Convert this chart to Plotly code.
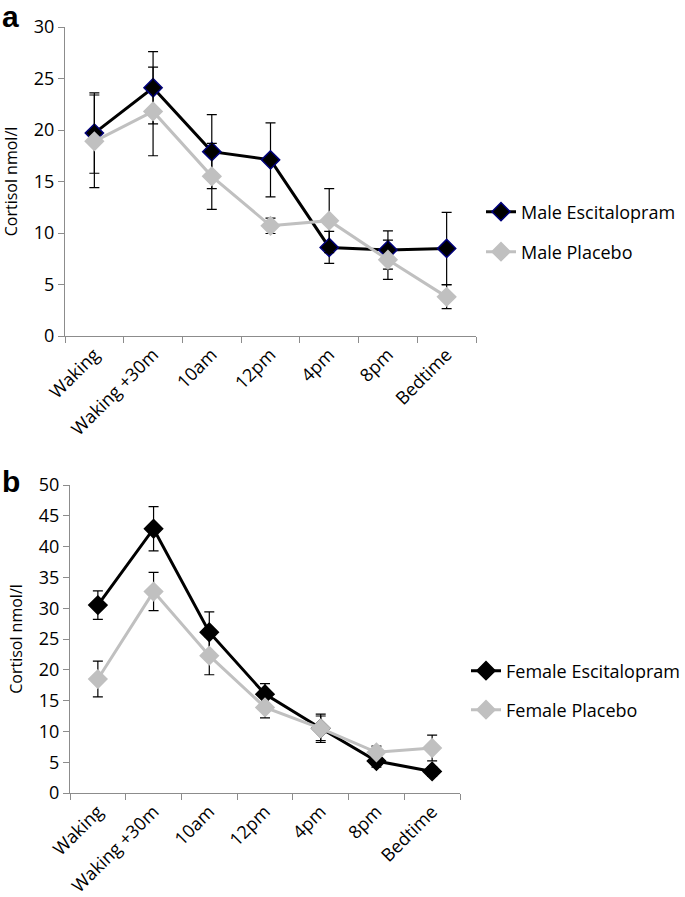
import plotly.graph_objects as go

times = ["Waking", "Waking +30m", "10am", "12pm", "4pm", "8pm", "Bedtime"]

male_esc = [19.7, 24.1, 17.9, 17.1, 8.6, 8.35, 8.5]
male_esc_err = [3.9, 3.5, 3.6, 3.6, 1.55, 1.85, 3.5]
male_pla = [18.9, 21.8, 15.5, 10.7, 11.2, 7.4, 3.8]
male_pla_err = [4.5, 4.3, 3.2, 0.75, 3.1, 1.9, 1.15]

female_esc = [30.5, 42.9, 26.1, 16.05, 10.5, 5.2, 3.5]
female_esc_err = [2.3, 3.6, 3.3, 1.7, 2.3, 1.0, 0.8]
female_pla = [18.5, 32.7, 22.3, 13.9, 10.5, 6.6, 7.3]
female_pla_err = [2.9, 3.1, 3.1, 1.7, 2.0, 1.0, 2.1]

W, H = 685, 897
FONT = "Open Sans"
AXIS_GREY = "#8c8c8c"
PLACEBO_GREY = "#c0c0c0"


def px_x(v):
    return v / W


def px_y(v):
    return 1 - v / H


def _series(name, x, y, err, xa, ya, legend, color, outline):
    return go.Scatter(
        x=x,
        y=y,
        name=name,
        mode="lines+markers",
        xaxis=xa,
        yaxis=ya,
        legend=legend,
        line=dict(color=color, width=3),
        marker=dict(symbol="diamond", size=14, color=color, line=dict(color=outline, width=1.5)),
        error_y=dict(type="data", array=err, visible=True, color="black", thickness=1.2, width=5),
    )


fig = go.Figure()
fig.add_trace(_series("Male Escitalopram", times, male_esc, male_esc_err, "x", "y", "legend", "black", "#00007a"))
fig.add_trace(_series("Male Placebo", times, male_pla, male_pla_err, "x", "y", "legend2", PLACEBO_GREY, PLACEBO_GREY))
fig.add_trace(_series("Female Escitalopram", times, female_esc, female_esc_err, "x2", "y2", "legend3", "black", "black"))
fig.add_trace(_series("Female Placebo", times, female_pla, female_pla_err, "x2", "y2", "legend4", PLACEBO_GREY, PLACEBO_GREY))

xaxis_common = dict(
    type="category",
    range=[-0.5, 6.5],
    tickson="boundaries",
    ticks="outside",
    ticklen=6,
    tickcolor=AXIS_GREY,
    showline=True,
    linecolor=AXIS_GREY,
    linewidth=1.2,
    showgrid=False,
    zeroline=False,
    automargin=False,
    tickangle=-45,
    tickfont=dict(family=FONT, size=18, color="black"),
)
yaxis_common = dict(
    ticks="outside",
    ticklen=6,
    tickcolor=AXIS_GREY,
    showline=True,
    linecolor=AXIS_GREY,
    linewidth=1.2,
    showgrid=False,
    zeroline=False,
    automargin=False,
    tickfont=dict(family=FONT, size=18, color="black"),
    title=dict(text="Cortisol nmol/l", font=dict(family=FONT, size=16, color="black"), standoff=12),
)

legend_common = dict(
    font=dict(family=FONT, size=18, color="black"),
    bgcolor="rgba(0,0,0,0)",
    xanchor="left",
    yanchor="middle",
    itemwidth=30,
)

fig.update_layout(
    width=W,
    height=H,
    margin=dict(l=0, r=0, t=0, b=0),
    paper_bgcolor="white",
    plot_bgcolor="white",
    showlegend=True,
    xaxis=dict(xaxis_common, domain=[px_x(65), px_x(476)], anchor="y"),
    yaxis=dict(yaxis_common, domain=[px_y(336), px_y(27)], range=[0, 30], dtick=5, anchor="x"),
    xaxis2=dict(xaxis_common, domain=[px_x(70), px_x(460)], anchor="y2"),
    yaxis2=dict(yaxis_common, domain=[px_y(793), px_y(485)], range=[0, 50], dtick=5, anchor="x2"),
    legend=dict(legend_common, x=px_x(481), y=px_y(212)),
    legend2=dict(legend_common, x=px_x(481), y=px_y(252)),
    legend3=dict(legend_common, x=px_x(466), y=px_y(671)),
    legend4=dict(legend_common, x=px_x(466), y=px_y(710)),
    annotations=[
        dict(text="<b>a</b>", x=0, y=1, xref="paper", yref="paper", xanchor="left", yanchor="top",
             showarrow=False, font=dict(family="Liberation Sans", size=30, color="black"), yshift=2),
        dict(text="<b>b</b>", x=0, y=px_y(467), xref="paper", yref="paper", xanchor="left", yanchor="top",
             showarrow=False, font=dict(family="Liberation Sans", size=30, color="black"), yshift=4),
    ],
)

# drop the browser's default body margin so the figure sits at the page corner
fig.write_html(
    "out.html",
    config={"displayModeBar": False},
    post_script="document.body.style.margin = '0';",
)
